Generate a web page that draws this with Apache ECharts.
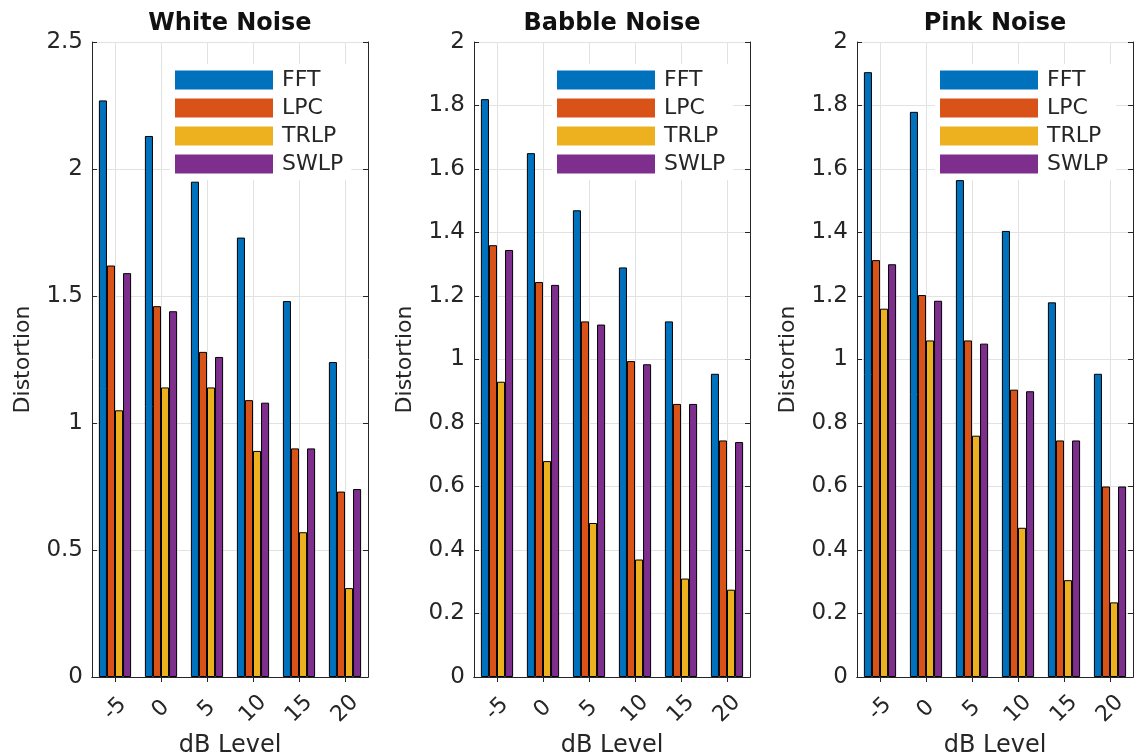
<!DOCTYPE html>
<html>
<head>
<meta charset="utf-8">
<script src="https://cdn.jsdelivr.net/npm/echarts@6/dist/echarts.min.js"></script>
<style>
html,body{margin:0;padding:0;background:#fff;}
#chart{width:1138px;height:753px;}
</style>
</head>
<body>
<div id="chart"></div>
<script>
// ---- data ----
const categories = ['-5', '0', '5', '10', '15', '20'];
const seriesNames = ['FFT', 'LPC', 'TRLP', 'SWLP'];
const panelTitles = ['White Noise', 'Babble Noise', 'Pink Noise'];
const yMax = [2.5, 2, 2];
const yInterval = [0.5, 0.2, 0.2];

const fftWhite  = [2.27, 2.13, 1.95, 1.73, 1.48, 1.24];
const lpcWhite  = [1.62, 1.46, 1.28, 1.09, 0.90, 0.73];
const trlpWhite = [1.05, 1.14, 1.14, 0.89, 0.57, 0.35];
const swlpWhite = [1.59, 1.44, 1.26, 1.08, 0.90, 0.74];

const fftBabble  = [1.82, 1.65, 1.47, 1.29, 1.12, 0.955];
const lpcBabble  = [1.36, 1.244, 1.12, 0.995, 0.86, 0.745];
const trlpBabble = [0.93, 0.68, 0.485, 0.37, 0.31, 0.275];
const swlpBabble = [1.345, 1.235, 1.11, 0.985, 0.86, 0.74];

const fftPink  = [1.905, 1.78, 1.565, 1.405, 1.18, 0.955];
const lpcPink  = [1.313, 1.203, 1.06, 0.905, 0.745, 0.60];
const trlpPink = [1.16, 1.06, 0.76, 0.47, 0.305, 0.235];
const swlpPink = [1.30, 1.185, 1.05, 0.90, 0.745, 0.60];

const panelData = [
  [fftWhite, lpcWhite, trlpWhite, swlpWhite],
  [fftBabble, lpcBabble, trlpBabble, swlpBabble],
  [fftPink, lpcPink, trlpPink, swlpPink]
];

// ---- style / layout ----
const colors = ['#0072BD', '#D95319', '#EDB120', '#7E2F8E'];
const FONT = 'DejaVu Sans';
const AX = '#262626';
const GRIDC = '#e2e2e2';
const boxes = [
  {left: 92, right: 1138 - 368},
  {left: 474, right: 1138 - 750},
  {left: 857, right: 1138 - 1133}
];
const TOP = 42, BOTTOM = 753 - 677;

// half-step category list used only for the top tick/grid axis
const halfCats = [''];
categories.forEach(c => { halfCats.push(c); halfCats.push(''); });
const oddOnly = (i) => i % 2 === 1;

const grids = [], xAxes = [], yAxes = [], titles = [], legends = [], series = [];

boxes.forEach((b, p) => {
  const w = 1138 - b.left - b.right;
  grids.push({left: b.left, right: b.right, top: TOP, bottom: BOTTOM,
    containLabel: false, outerBoundsMode: 'none'});
  titles.push({
    text: panelTitles[p], left: b.left + w / 2, top: 12, textAlign: 'center', padding: 0,
    textStyle: {fontFamily: FONT, fontWeight: 'bold', fontSize: 24, color: '#111'}
  });
  legends.push({
    data: seriesNames, orient: 'vertical', left: b.left + 78, top: 64,
    icon: 'rect', itemWidth: 98, itemHeight: 19, itemGap: 6,
    padding: [5, 8, 5, 5], backgroundColor: '#ffffff',
    itemStyle: {borderWidth: 0},
    textStyle: {fontFamily: FONT, fontSize: 22, lineHeight: 19, color: AX, padding: [0, 0, 0, 4]},
    selectedMode: false
  });
  // bottom category axis
  xAxes.push({
    type: 'category', gridIndex: p, data: categories, position: 'bottom',
    name: 'dB Level', nameLocation: 'middle', nameGap: 52,
    nameTextStyle: {fontFamily: FONT, fontSize: 24, color: AX},
    axisLine: {show: true, lineStyle: {color: AX, width: 1}},
    axisTick: {show: true, inside: true, alignWithLabel: true, length: 5, lineStyle: {color: AX}},
    axisLabel: {interval: 0, rotate: 45, align: 'center', verticalAlign: 'middle', margin: 32,
      fontFamily: FONT, fontSize: 22, color: AX},
    splitLine: {show: false}
  });
  // left value axis
  yAxes.push({
    type: 'value', gridIndex: p, min: 0, max: yMax[p], interval: yInterval[p], position: 'left',
    name: 'Distortion', nameLocation: 'middle', nameGap: 58,
    nameTextStyle: {fontFamily: FONT, fontSize: 22, color: AX},
    axisLine: {show: true, lineStyle: {color: AX, width: 1}},
    axisTick: {show: true, inside: true, length: 5, lineStyle: {color: AX}},
    axisLabel: {margin: 9, fontFamily: FONT, fontSize: 23, color: AX},
    splitLine: {show: true, lineStyle: {color: GRIDC, width: 1}}
  });
});

boxes.forEach((b, p) => {
  // top axis: ticks and vertical grid lines at category centres
  xAxes.push({
    type: 'category', gridIndex: p, data: halfCats, position: 'top', boundaryGap: false,
    axisLine: {show: true, lineStyle: {color: AX, width: 1}},
    axisTick: {show: true, inside: true, length: 5, interval: oddOnly, lineStyle: {color: AX}},
    axisLabel: {show: false},
    splitLine: {show: true, interval: oddOnly, lineStyle: {color: GRIDC, width: 1}}
  });
  // right axis: box edge + ticks
  yAxes.push({
    type: 'value', gridIndex: p, min: 0, max: yMax[p], interval: yInterval[p], position: 'right',
    axisLine: {show: true, lineStyle: {color: AX, width: 1}},
    axisTick: {show: true, inside: true, length: 5, lineStyle: {color: AX}},
    axisLabel: {show: false},
    splitLine: {show: false}
  });
});

panelData.forEach((arrs, p) => {
  arrs.forEach((vals, s) => {
    series.push({
      type: 'bar', name: seriesNames[s], xAxisIndex: p, yAxisIndex: p,
      data: vals, barGap: '0%', barCategoryGap: '30%',
      itemStyle: {color: colors[s], borderColor: '#000', borderWidth: 1},
      emphasis: {disabled: true}, animation: false
    });
  });
});

const chart = echarts.init(document.getElementById('chart'), null, {renderer: 'canvas'});
chart.setOption({
  backgroundColor: '#ffffff',
  animation: false,
  color: colors,
  title: titles,
  legend: legends,
  grid: grids,
  xAxis: xAxes,
  yAxis: yAxes,
  series: series
});
</script>
</body>
</html>
